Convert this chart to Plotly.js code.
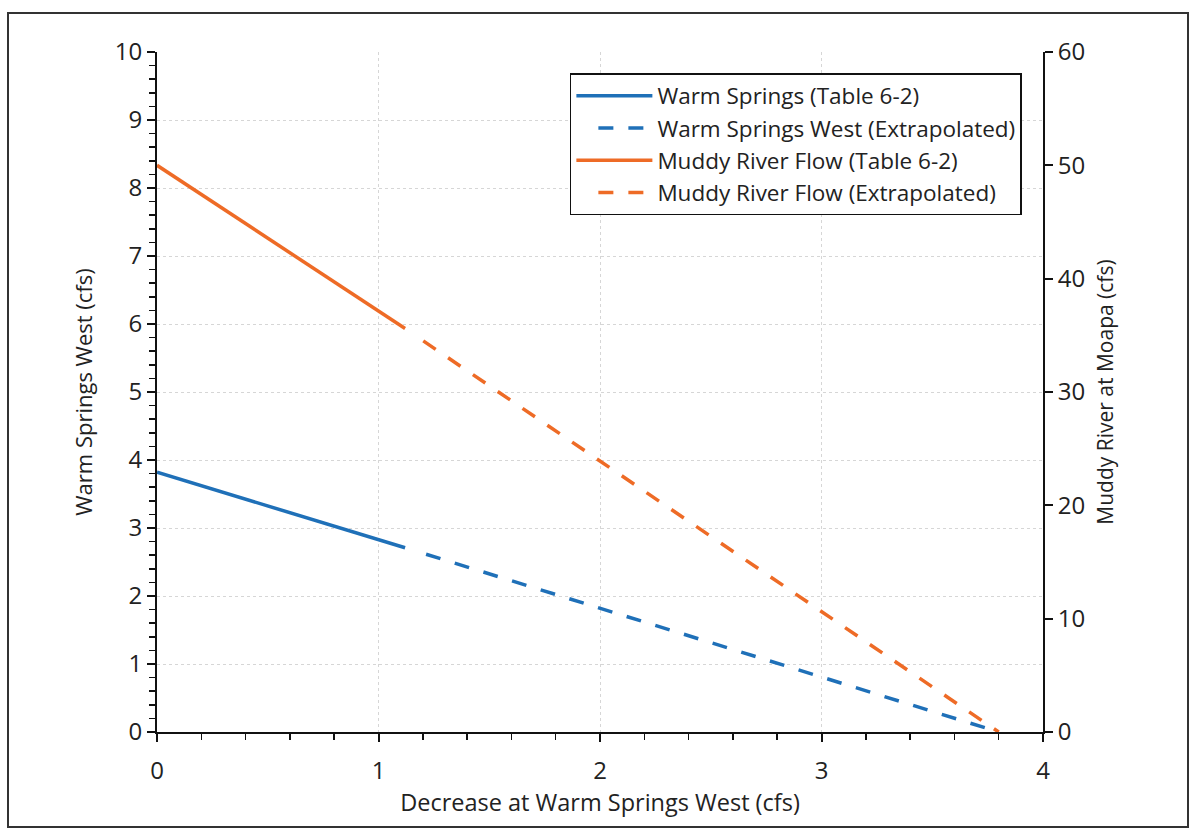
<!DOCTYPE html>
<html>
<head>
<meta charset="utf-8">
<script src="https://cdn.plot.ly/plotly-3.0.1.min.js"></script>
<style>
  html, body { margin: 0; padding: 0; background: #fff; }
  #chart { width: 1191px; height: 829px; position: absolute; left: 0; top: 0; }
  #frame { position: absolute; left: 7px; top: 12px; width: 1178px; height: 812px;
           border: 2px solid #333; pointer-events: none; }
</style>
</head>
<body>
<div id="chart"></div>
<div id="frame"></div>
<script>
// Data
const wsTableX = [0, 1.12];
const wsTableY = [3.82, 2.71];
const wsExtX = [1.12, 3.8];
const wsExtY = [2.71, 0];
const mrTableX = [0, 1.12];
const mrTableY = [50.0, 35.6];
const mrExtX = [1.12, 3.8];
const mrExtY = [35.6, 0];

const seriesNames = [
  'Warm Springs (Table 6-2)',
  'Warm Springs West (Extrapolated)',
  'Muddy River Flow (Table 6-2)',
  'Muddy River Flow (Extrapolated)'
];

const blue = '#1f70b8';
const orange = '#ee6b26';
const fontFam = '"Open Sans", "Noto Sans", sans-serif';

// dash pattern: leading gap then regular 15px dashes / 15px gaps
const dashParts = ['0px', '22px'];
for (let i = 0; i < 40; i++) { dashParts.push('15px', '15px'); }
const extDash = dashParts.join(',');

const traces = [
  { x: wsTableX, y: wsTableY, name: seriesNames[0], mode: 'lines', yaxis: 'y',
    line: { color: blue, width: 3.5 } },
  { x: wsExtX, y: wsExtY, name: seriesNames[1], mode: 'lines', yaxis: 'y',
    line: { color: blue, width: 3.5, dash: extDash } },
  { x: mrTableX, y: mrTableY, name: seriesNames[2], mode: 'lines', yaxis: 'y2',
    line: { color: orange, width: 3.5 } },
  { x: mrExtX, y: mrExtY, name: seriesNames[3], mode: 'lines', yaxis: 'y2',
    line: { color: orange, width: 3.5, dash: extDash } }
];

const layout = {
  width: 1191, height: 829,
  margin: { l: 157, r: 148, t: 52, b: 97 },
  paper_bgcolor: '#fff', plot_bgcolor: '#fff',
  font: { family: fontFam, color: '#222', size: 22 },
  showlegend: true,
  legend: {
    x: 0.466, y: 0.969, xanchor: 'left', yanchor: 'top',
    bordercolor: '#111', borderwidth: 1.5, bgcolor: '#fff',
    font: { family: fontFam, size: 22.5, color: '#222' },
    tracegroupgap: 0, itemwidth: 76
  },
  xaxis: {
    range: [0, 4], dtick: 1, tick0: 0,
    showline: true, linecolor: '#111', linewidth: 2,
    ticks: 'outside', ticklen: 8, tickwidth: 2, tickcolor: '#111',
    minor: { dtick: 0.2, ticks: 'outside', ticklen: 6, tickwidth: 1.5, tickcolor: '#111', showgrid: false },
    showgrid: true, gridcolor: '#d6d6d6', griddash: 'dot', gridwidth: 1,
    zeroline: false,
    tickfont: { size: 24 },
    ticklabelstandoff: 8,
    title: { text: 'Decrease at Warm Springs West (cfs)', font: { size: 23.5 }, standoff: 8 }
  },
  yaxis: {
    range: [0, 10], dtick: 1, tick0: 0,
    showline: true, linecolor: '#111', linewidth: 2,
    ticks: 'outside', ticklen: 8, tickwidth: 2, tickcolor: '#111',
    minor: { dtick: 0.2, ticks: 'outside', ticklen: 6, tickwidth: 1.5, tickcolor: '#111', showgrid: false },
    showgrid: true, gridcolor: '#d6d6d6', griddash: 'dot', gridwidth: 1,
    zeroline: false,
    tickfont: { size: 24 },
    title: { text: 'Warm Springs West (cfs)', font: { size: 22 }, standoff: 16 }
  },
  yaxis2: {
    overlaying: 'y', side: 'right',
    range: [0, 60], dtick: 10, tick0: 0,
    showline: true, linecolor: '#111', linewidth: 2,
    ticks: 'outside', ticklen: 8, tickwidth: 2, tickcolor: '#111',
    showgrid: false, zeroline: false,
    tickfont: { size: 24 },
    title: { text: 'Muddy River at Moapa (cfs)', font: { size: 21 }, standoff: 14 }
  }
};

Plotly.newPlot('chart', traces, layout, { displayModeBar: false, staticPlot: true });
</script>
</body>
</html>
